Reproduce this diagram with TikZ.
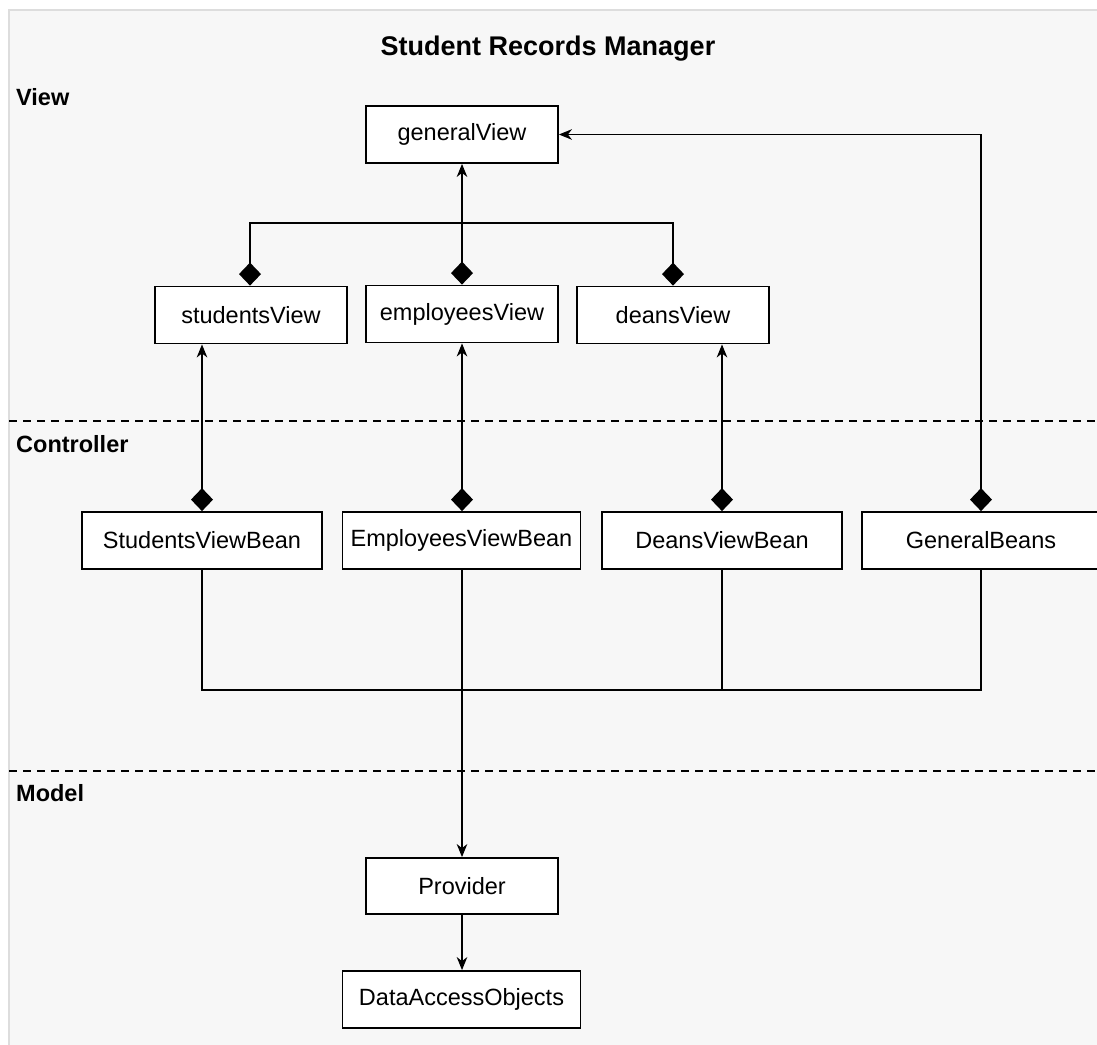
\documentclass[tikz,border=0pt]{standalone}
\usepackage{fontspec}
\setmainfont{Liberation Sans}
\usetikzlibrary{arrows.meta}
\definecolor{panel}{HTML}{F7F7F7}
\definecolor{panelrule}{HTML}{DDDDDD}
\begin{document}
\begin{tikzpicture}[x=1pt,y=-1pt,
  box/.style={draw=black, fill=white, line width=1.8pt, minimum width=192pt,
    minimum height=57pt, inner sep=0pt, font=\fontsize{23.5}{28}\selectfont},
  widebox/.style={box, minimum width=240pt},
  link/.style={line width=1.6pt, draw=black},
  toarrow/.style={-{Stealth[length=13pt,width=10.5pt,inset=4pt]}},
  composed/.style={{Diamond[length=23pt,width=22pt]}-{Stealth[length=13pt,width=10.5pt,inset=4pt]}},
  twodiamonds/.style={{Diamond[length=23pt,width=22pt]}-{Diamond[length=23pt,width=22pt]}},
  layerrule/.style={line width=1.5pt, dash pattern=on 8pt off 6pt},
  layerlabel/.style={anchor=base west, inner sep=0pt, font=\bfseries\fontsize{23.5}{28}\selectfont}
]
\useasboundingbox (0,0) rectangle (1097,1044);

% panel background
\begin{scope}
  \clip (0,0) rectangle (1097,1044);
  \draw[draw=panelrule, fill=panel, line width=2pt] (9,10) rectangle (1130,1080);
\end{scope}

% title and layer labels
\node[anchor=base, inner sep=0pt, font=\bfseries\fontsize{27}{32}\selectfont] (title) at (548,55) {Student Records Manager};
\node[layerlabel] (lview) at (16,105) {View};
\node[layerlabel] (lctrl) at (16,452) {Controller};
\node[layerlabel] (lmodel) at (16,801) {Model};

% layer separators
\coordinate (s1a) at (9,421);  \coordinate (s1b) at (1097,421);
\coordinate (s2a) at (9,771);  \coordinate (s2b) at (1097,771);
\draw[layerrule] (s1a) -- (s1b);
\draw[layerrule] (s2a) -- (s2b);

% view layer
\node[box] (generalView) at (462,134.5) {generalView};
\node[box] (studentsView) at (251,315) {studentsView};
\node[box] (employeesView) at (462,314) {employeesView};
\node[box] (deansView) at (673,315) {deansView};

% controller layer
\node[widebox] (studentsBean) at (202,540.5) {StudentsViewBean};
\node[widebox, minimum width=238pt] (employeesBean) at (461.5,540.5) {EmployeesViewBean};
\node[widebox] (deansBean) at (722,540.5) {DeansViewBean};
\node[widebox, minimum width=238pt] (generalBeans) at (981,540.5) {GeneralBeans};

% model layer
\node[box, minimum height=56pt] (provider) at (462,886) {Provider};
\node[widebox, minimum width=238pt] (dao) at (461.5,999.5) {DataAccessObjects};

% view composition
\coordinate (topbus) at (462,223);
\draw[link, twodiamonds] (studentsView.north -| 250,0) |- (topbus) -| (deansView.north);
\draw[link, composed] (employeesView.north) -- (generalView.south);

% beans to views
\draw[link, composed] (studentsBean.north) -- (studentsBean.north |- studentsView.south);
\draw[link, composed] (employeesBean.north -| 462,0) -- (employeesView.south);
\draw[link, composed] (deansBean.north) -- (deansBean.north |- deansView.south);
\draw[link, composed] (generalBeans.north) |- (generalView.east);

% beans to provider
\coordinate (bus) at (462,690);
\draw[link] (studentsBean.south) |- (bus) -| (generalBeans.south);
\draw[link] (deansBean.south) -- (deansBean.south |- bus);
\draw[link, toarrow] (employeesBean.south -| 462,0) -- (provider.north);
\draw[link, toarrow] (provider.south) -- (dao.north -| 462,0);
\end{tikzpicture}
\end{document}
